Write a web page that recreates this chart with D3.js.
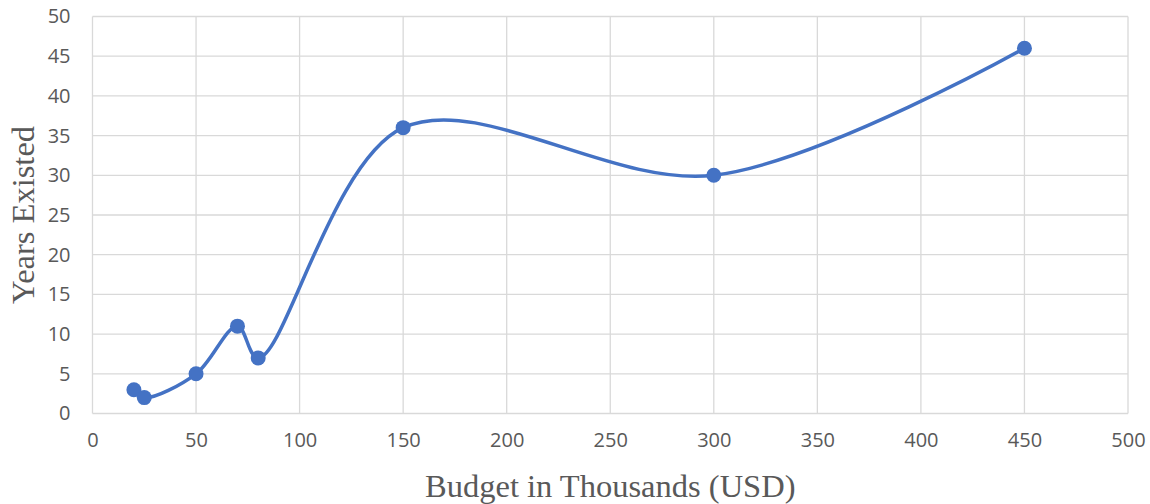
<!DOCTYPE html>
<html>
<head>
<meta charset="utf-8">
<script src="https://cdn.jsdelivr.net/npm/d3@7"></script>
<style>
  body { margin: 0; background: #fff; }
  .tick text { font-family: "Open Sans", "Noto Sans", sans-serif; font-size: 20px; fill: #595959; }
</style>
</head>
<body>
<div id="canvas"></div>
<script>
// data
var budgets = [20, 25, 50, 70, 80, 150, 300, 450];
var years = [3, 2, 5, 11, 7, 36, 30, 46];
var xTicks = [0, 50, 100, 150, 200, 250, 300, 350, 400, 450, 500];
var yTicks = [0, 5, 10, 15, 20, 25, 30, 35, 40, 45, 50];

var width = 1150, height = 504;
var margin = {top: 16.5, right: 22, bottom: 90.5, left: 92.5};

var svg = d3.select("#canvas")
    .append("svg")
    .attr("width", width)
    .attr("height", height);

var x = d3.scaleLinear().domain([0, 500]).range([margin.left, width - margin.right]);
var y = d3.scaleLinear().domain([0, 50]).range([height - margin.bottom, margin.top]);

// grid
svg.append("g")
    .selectAll("line.h")
    .data(yTicks)
    .join("line")
      .attr("x1", x(0)).attr("x2", x(500))
      .attr("y1", function (d) { return y(d); })
      .attr("y2", function (d) { return y(d); })
      .attr("stroke", "#d9d9d9")
      .attr("stroke-width", 1.3);

svg.append("g")
    .selectAll("line.v")
    .data(xTicks)
    .join("line")
      .attr("x1", function (d) { return x(d); })
      .attr("x2", function (d) { return x(d); })
      .attr("y1", y(0)).attr("y2", y(50))
      .attr("stroke", "#d9d9d9")
      .attr("stroke-width", 1.3);

// axes (labels only)
var xAxis = svg.append("g")
    .attr("transform", "translate(0," + y(0) + ")")
    .call(d3.axisBottom(x).tickValues(xTicks).tickSize(0).tickPadding(19));
xAxis.select(".domain").remove();

var yAxis = svg.append("g")
    .attr("transform", "translate(" + x(0) + ",0)")
    .call(d3.axisLeft(y).tickValues(yTicks).tickSize(0).tickPadding(22));
yAxis.select(".domain").remove();

// axis titles
svg.append("text")
    .attr("x", x(250))
    .attr("y", 497)
    .attr("text-anchor", "middle")
    .attr("font-family", "'Liberation Serif', 'Times New Roman', serif")
    .attr("font-size", 32.5)
    .attr("fill", "#595959")
    .text("Budget in Thousands (USD)");

svg.append("text")
    .attr("transform", "translate(33.5," + y(25) + ") rotate(-90)")
    .attr("text-anchor", "middle")
    .attr("font-family", "'Liberation Serif', 'Times New Roman', serif")
    .attr("font-size", 32.5)
    .attr("fill", "#595959")
    .text("Years Existed");

// smoothed line
var pts = budgets.map(function (b, i) { return [b, years[i]]; });
var line = d3.line()
    .x(function (d) { return x(d[0]); })
    .y(function (d) { return y(d[1]); })
    .curve(d3.curveCatmullRom.alpha(0.5));

svg.append("path")
    .datum(pts)
    .attr("d", line)
    .attr("fill", "none")
    .attr("stroke", "#4472c4")
    .attr("stroke-width", 3.5)
    .attr("stroke-linecap", "round");

svg.append("g")
    .selectAll("circle")
    .data(pts)
    .join("circle")
      .attr("cx", function (d) { return x(d[0]); })
      .attr("cy", function (d) { return y(d[1]); })
      .attr("r", 7.5)
      .attr("fill", "#4472c4");
</script>
</body>
</html>
